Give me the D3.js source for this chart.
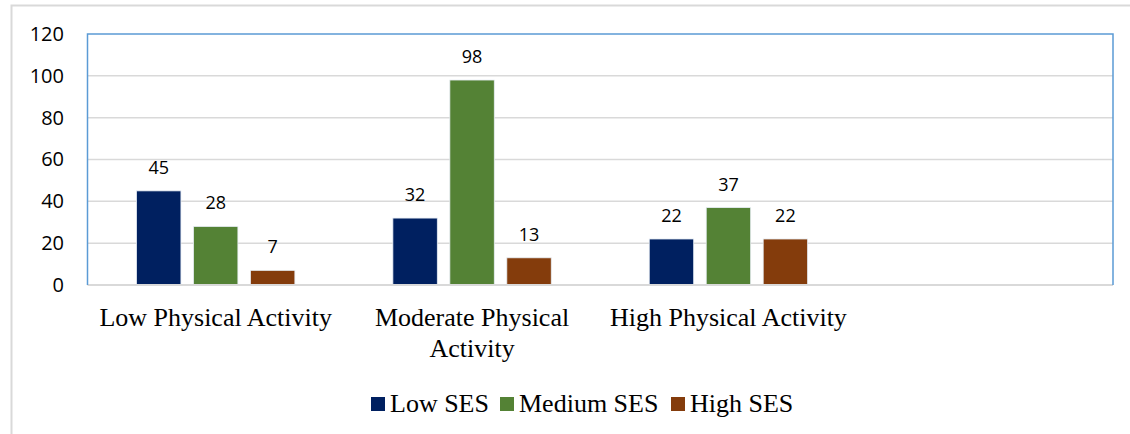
<!DOCTYPE html>
<html>
<head>
<meta charset="utf-8">
<script src="https://cdn.jsdelivr.net/npm/d3@7/dist/d3.min.js"></script>
<style>
  html, body { margin: 0; padding: 0; background: #fff; }
  svg { display: block; }
</style>
</head>
<body>
<svg id="chart" width="1130" height="434"></svg>
<script>
// Activity groups along the x axis (label lines split where they wrap)
const categories = ["Low Physical Activity", "Moderate Physical Activity", "High Physical Activity"];
const categoryLines = [["Low Physical Activity"], ["Moderate Physical", "Activity"], ["High Physical Activity"]];
// Socio-economic status series
const series = ["Low SES", "Medium SES", "High SES"];
const lowSES = [45, 32, 22];
const mediumSES = [28, 98, 37];
const highSES = [7, 13, 22];
const yTicks = [0, 20, 40, 60, 80, 100, 120];

const colors = ["#002060", "#548235", "#843C0C"];
const seriesValues = [lowSES, mediumSES, highSES];

const svg = d3.select("#chart");
const W = 1130, H = 434;
const plot = { left: 87.5, right: 1113, top: 34, bottom: 285 };

// outer frame of the chart object
svg.append("path")
  .attr("d", `M${W + 2},5.5 H11.5 V${H + 2}`)
  .attr("fill", "none")
  .attr("stroke", "#d9d9d9")
  .attr("stroke-width", 2);

// the category axis reserves one more, unlabeled slot on the right
const x0 = d3.scaleBand()
  .domain(categories.concat([""]))
  .range([plot.left, plot.right])
  .paddingInner(0).paddingOuter(0);

const x1 = d3.scaleBand()
  .domain(series)
  .range([0, x0.bandwidth()])
  .paddingInner(0.22)
  .paddingOuter(0.86);

const y = d3.scaleLinear().domain([0, 120]).range([plot.bottom, plot.top]);

// gridlines
svg.append("g")
  .selectAll("line")
  .data(yTicks.filter(t => t > 0 && t < 120))
  .join("line")
  .attr("x1", plot.left).attr("x2", plot.right)
  .attr("y1", d => y(d)).attr("y2", d => y(d))
  .attr("stroke", "#d9d9d9")
  .attr("stroke-width", 1.5);

// y tick labels
const yAxis = d3.axisLeft(y).tickValues(yTicks).tickSize(0).tickPadding(0);
const gy = svg.append("g")
  .attr("transform", `translate(64,0)`)
  .call(yAxis);
gy.select(".domain").remove();
gy.selectAll("text")
  .attr("font-family", "'Open Sans', sans-serif")
  .attr("font-size", 20)
  .attr("fill", "#000");

// bars
const rows = categories.map((c, i) => ({ category: c, values: series.map((s, j) => ({ series: s, value: seriesValues[j][i], color: colors[j] })) }));

const groups = svg.append("g")
  .selectAll("g")
  .data(rows)
  .join("g")
  .attr("transform", d => `translate(${x0(d.category)},0)`);

groups.selectAll("rect")
  .data(d => d.values)
  .join("rect")
  .attr("x", d => x1(d.series))
  .attr("width", x1.bandwidth())
  .attr("y", d => y(d.value))
  .attr("height", d => y(0) - y(d.value))
  .attr("fill", d => d.color)
  .attr("stroke", "#e8eef5")
  .attr("stroke-width", 0.8);

groups.selectAll("text.value")
  .data(d => d.values)
  .join("text")
  .attr("class", "value")
  .attr("x", d => x1(d.series) + x1.bandwidth() / 2)
  .attr("y", d => y(d.value) - 17)
  .attr("text-anchor", "middle")
  .attr("font-family", "'Open Sans', sans-serif")
  .attr("font-size", 18)
  .attr("fill", "#000")
  .text(d => d.value);

// baseline
svg.append("line")
  .attr("x1", plot.left).attr("x2", plot.right)
  .attr("y1", y(0)).attr("y2", y(0))
  .attr("stroke", "#d9d9d9")
  .attr("stroke-width", 2);

// plot area border (left, top, right)
svg.append("path")
  .attr("d", `M${plot.left},${y(0)} V${plot.top} H${plot.right} V${y(0)}`)
  .attr("fill", "none")
  .attr("stroke", "#5B9BD5")
  .attr("stroke-width", 1.5);

// category labels
const catG = svg.append("g");
categories.forEach((c, i) => {
  const t = catG.append("text")
    .attr("x", x0(c) + x0.bandwidth() / 2)
    .attr("y", 326)
    .attr("text-anchor", "middle")
    .attr("font-family", "'Liberation Serif', 'Times New Roman', serif")
    .attr("font-size", 26)
    .attr("fill", "#000");
  categoryLines[i].forEach((line, k) => {
    t.append("tspan")
      .attr("x", x0(c) + x0.bandwidth() / 2)
      .attr("dy", k === 0 ? 0 : 30.5)
      .text(line);
  });
});

// legend
const legend = svg.append("g").attr("transform", "translate(371,0)");
const legendX = [0, 129, 300];
series.forEach((s, j) => {
  const g = legend.append("g").attr("transform", `translate(${legendX[j]},0)`);
  g.append("rect")
    .attr("x", 0).attr("y", 397)
    .attr("width", 14).attr("height", 14)
    .attr("fill", colors[j]);
  g.append("text")
    .attr("x", 19).attr("y", 412)
    .attr("font-family", "'Liberation Serif', 'Times New Roman', serif")
    .attr("font-size", 26)
    .attr("fill", "#000")
    .text(s);
});
</script>
</body>
</html>
